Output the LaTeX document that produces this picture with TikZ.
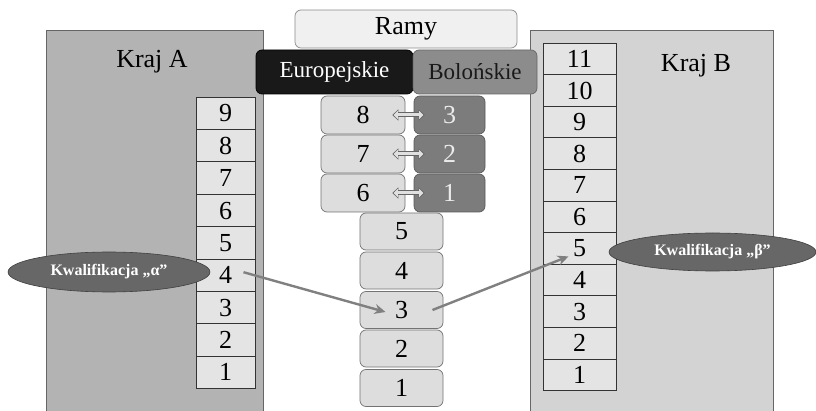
\documentclass[tikz,border=0pt]{standalone}
\usepackage{fontspec}
\setmainfont{Liberation Serif}
\usetikzlibrary{arrows.meta,shapes.geometric}
\definecolor{panelA}{HTML}{B3B3B3}
\definecolor{panelB}{HTML}{D3D3D3}
\definecolor{cellfill}{HTML}{E4E4E4}
\definecolor{lowfill}{HTML}{DDDDDD}
\definecolor{bolfill}{HTML}{8C8C8C}
\definecolor{bolcell}{HTML}{7C7C7C}
\definecolor{ellfill}{HTML}{676767}
\definecolor{arrgray}{HTML}{808080}
\tikzset{
  numfont/.style={font=\fontsize{26}{26}\selectfont},
  panel/.style={draw=black!60, line width=0.6pt, minimum width=#1, inner sep=0pt},
  cellA/.style={draw=black!80, fill=cellfill, line width=0.6pt, minimum width=59pt, minimum height=32.4pt, inner sep=0pt, numfont, text depth=-5pt},
  cellB/.style={draw=black!80, fill=cellfill, line width=0.6pt, minimum width=73pt, minimum height=31.6pt, inner sep=0pt, numfont, text depth=-5pt},
  rbox/.style={rounded corners=6pt, line width=0.7pt, inner sep=0pt},
  estack/.style={rbox, draw=black!55, fill=lowfill, minimum width=84pt, minimum height=38pt, numfont},
  bstack/.style={rbox, draw=black!65, fill=bolcell, text=white!92!black, minimum width=71pt, minimum height=38pt, numfont},
  lstack/.style={rbox, draw=black!55, fill=lowfill, minimum width=83pt, minimum height=37pt, numfont},
  kwal/.style={ellipse, draw=black!75, fill=ellfill, text=white, line width=0.6pt, inner sep=0pt, font=\fontsize{16}{16}\selectfont\bfseries},
  flow/.style={draw=arrgray, line width=2.4pt, -{Stealth[length=11pt,width=10pt]}},
  dblout/.style={draw=black!60, line width=5pt, {Triangle[length=6pt,width=11pt]}-{Triangle[length=6pt,width=11pt]}},
  dblin/.style={draw=white!88!black, line width=3pt, shorten <=1.2pt, shorten >=1.2pt, {Triangle[length=4.3pt,width=8pt]}-{Triangle[length=4.3pt,width=8pt]}},
}
\begin{document}
\begin{tikzpicture}[x=1pt,y=-1pt]
\useasboundingbox[fill=white] (0,0) rectangle (816,411);
% panels
\node[panel=217pt, minimum height=381pt, fill=panelA] (pA) at (154.5,220.5) {};
\node[panel=243pt, minimum height=381pt, fill=panelB] (pB) at (651.5,220.5) {};
\node[font=\fontsize{26}{26}\selectfont] (tA) at (152,62) {Kraj A};
\node[font=\fontsize{26}{26}\selectfont] (tB) at (696,66) {Kraj B};
% cells A
\foreach \k in {1,...,9}{
  \node[cellA] (a\k) at (225.5,{97+(9-\k+0.5)*32.4}) {\k};
}
% cells B
\foreach \k in {1,...,11}{
  \node[cellB] (b\k) at (579.5,{43+(11-\k+0.5)*31.6}) {\k};
}
% frames
\node[rbox, draw=black!45, fill=black!6, minimum width=222pt, minimum height=38pt, font=\fontsize{26}{26}\selectfont] (ramy) at (406,29) {Ramy};
\node[rbox, draw=black, fill=black!90, text=white, minimum width=157pt, minimum height=44pt, font=\fontsize{23}{23}\selectfont] (eur) at (334.5,72) {Europejskie};
\node[rbox, draw=black!60, fill=bolfill, text=black!90, minimum width=124pt, minimum height=44pt, font=\fontsize{23}{23}\selectfont] (bol) at (475,72) {\raisebox{-4pt}{Bolońskie}};
% european upper
\node[estack] (e8) at (363,115) {8};
\node[estack] (e7) at (363,154) {7};
\node[estack] (e6) at (363,193) {6};
\node[bstack] (c3) at (449.5,115) {3};
\node[bstack] (c2) at (449.5,154) {2};
\node[bstack] (c1) at (449.5,193) {1};
\foreach \u/\v in {e8/c3,e7/c2,e6/c1}{
  \draw[dblout] ([xshift=-13pt]\u.east) -- ([xshift=11pt]\v.west);
  \draw[dblin] ([xshift=-13pt]\u.east) -- ([xshift=11pt]\v.west);
}
% lower stack
\node[lstack] (l5) at (401.5,231.5) {5};
\node[lstack] (l4) at (401.5,270.5) {4};
\node[lstack] (l3) at (401.5,310) {3};
\node[lstack] (l2) at (401.5,348.5) {2};
\node[lstack] (l1) at (401.5,388) {1};
% qualifications
\node[kwal, minimum width=202pt, minimum height=40pt] (qa) at (109,272) {Kwalifikacja „α”};
\node[kwal, minimum width=207pt, minimum height=38pt] (qb) at (712.5,252) {Kwalifikacja „β”};
% arrows
\draw[flow] ([xshift=18pt,yshift=3pt]a4.center) -- ([xshift=-16pt,yshift=-2pt]l3.center);
\draw[flow] ([xshift=31pt]l3.center) -- ([xshift=-11pt,yshift=-8pt]b5.center);
\end{tikzpicture}
\end{document}
